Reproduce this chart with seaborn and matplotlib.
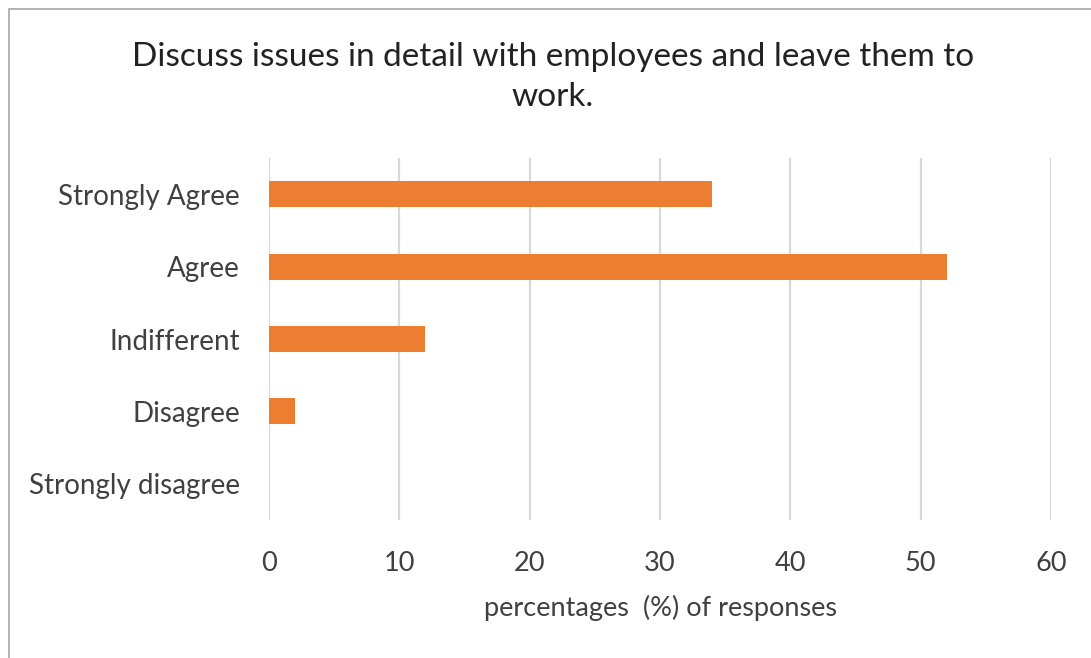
import matplotlib
matplotlib.use("Agg")
import matplotlib.pyplot as plt
import seaborn as sns
import pandas as pd
from matplotlib.patches import Rectangle

categories = ["Strongly Agree", "Agree", "Indifferent", "Disagree", "Strongly disagree"]
values = [34, 52, 12, 2, 0]
xticks = [0, 10, 20, 30, 40, 50, 60]

df = pd.DataFrame({"category": categories, "value": values})

sns.set_theme(style="white")
plt.rcParams["font.family"] = ["Lato", "DejaVu Sans"]

fig = plt.figure(figsize=(10.91, 6.58), dpi=100)
ax = fig.add_axes([269/1091, 1-520/658, (1051-269)/1091, (520-158)/658])

sns.barplot(data=df, x="value", y="category", order=categories, color="#ED7D31",
            orient="h", width=0.36, saturation=1, ax=ax, zorder=3, linewidth=0)

ax.set_xlim(0, 60)
ax.set_xticks(xticks)
ax.set_xticklabels([str(t) for t in xticks], fontsize=19.5, color="#404040")
ax.tick_params(axis="x", length=0, pad=22)
ax.tick_params(axis="y", length=0, pad=21, labelsize=20, labelcolor="#404040")
ax.grid(axis="x", color="#d9d9d9", linewidth=1.6, zorder=0)
ax.set_axisbelow(True)
for s in ax.spines.values():
    s.set_visible(False)
ax.set_ylabel("")
ax.set_xlabel("percentages  (%) of responses", fontsize=19.5, color="#404040", labelpad=14)

fig.text(553/1091, 1-77/658, "Discuss issues in detail with employees and leave them to\nwork.",
         ha="center", va="center", fontsize=24, color="#222222", linespacing=1.4)

fig.patches.append(Rectangle((9/1091, -0.1), 1.2, 1-9/658+0.1, transform=fig.transFigure,
                             fill=False, edgecolor="#a6a6a6", linewidth=1.2, zorder=10))

fig.savefig("out.png", dpi=100, facecolor="white")
